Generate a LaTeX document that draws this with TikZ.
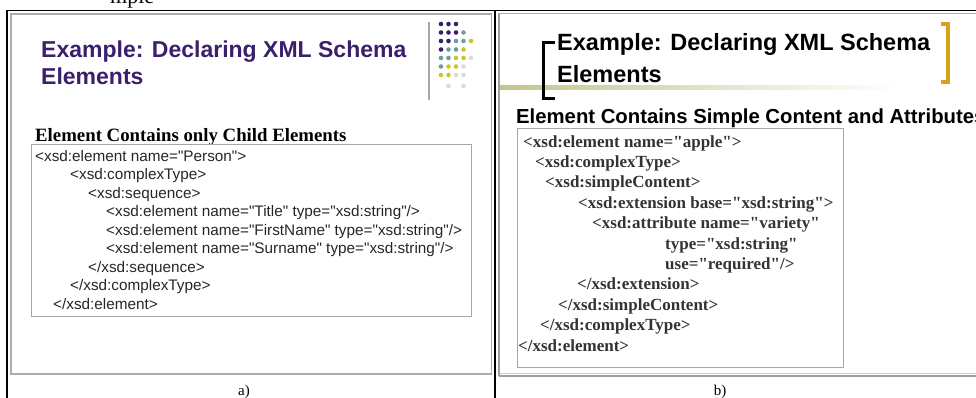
\documentclass[tikz,border=0pt]{standalone}
\usepackage{fontspec}
\setmainfont{Liberation Serif}[Ligatures=TeXOff]
\setsansfont{Liberation Sans}[Ligatures=TeXOff]
\definecolor{ttlpurple}{HTML}{3A1F6B}
\definecolor{dotP}{HTML}{3A1F6B}
\definecolor{dotT}{HTML}{6E9E9A}
\definecolor{dotY}{HTML}{C9C62A}
\definecolor{dotL}{HTML}{D8D8E6}
\definecolor{olive}{HTML}{C4C48E}
\definecolor{gold}{HTML}{D9A21B}
\begin{document}
\begin{tikzpicture}[x=1pt,y=-1pt,
  codeA/.style={anchor=base west,inner sep=0,font=\sffamily\fontsize{15.3}{18}\selectfont,text=black!85},
  codeB/.style={anchor=base west,inner sep=0,font=\rmfamily\bfseries\fontsize{17}{20}\selectfont,text=black!80},
  ttl/.style={anchor=base west,inner sep=0,font=\sffamily\bfseries\fontsize{23}{27}\selectfont},
  caplbl/.style={anchor=base,inner sep=0,font=\rmfamily\fontsize{15}{18}\selectfont},
  shotframe/.style={draw=gray!65,line width=1.5pt},
  tblline/.style={draw=black,line width=1.6pt}]
\useasboundingbox (0,0) rectangle (976,397);
\begin{scope}
\clip (0,0) rectangle (976,397);
% cut caption fragment
\node[anchor=base west,inner sep=0,font=\rmfamily\fontsize{22}{26}\selectfont] (frag) at (110,3.5) {mple};
% table lines
\draw[tblline] (7,10.5) -- (978,10.5);
\draw[tblline] (7,10) -- (7,399);
\draw[tblline] (494.8,10) -- (494.8,399);
% ---------- left screenshot ----------
\draw[shotframe] (11,14) rectangle (491.5,374);
\node[ttl,text=ttlpurple] (lt1) at (41,57) {Example: Declaring XML Schema};
\node[ttl,text=ttlpurple] (lt2) at (41,84) {Elements};
\draw[gray!70,line width=1.2pt] (429,22) -- (429,100);
% dots
\foreach \r/\lst in {24/{P,P,P,N,N},32.5/{P,P,P,T,N},41/{P,P,T,T,Y},49.5/{P,T,T,Y,N},58/{T,T,Y,Y,L},66.5/{T,Y,Y,L,N},75/{Y,Y,L,L,N},86/{N,L,N,L,N}}{
  \foreach \c [count=\i from 0] in \lst {
    \if\c N\else
      \fill[dot\c] ({441+7.5*\i},\r) circle (2.3);
    \fi
  }
}
\node[anchor=base west,inner sep=0,font=\rmfamily\bfseries\fontsize{18.8}{22}\selectfont] (lsub) at (35,141) {Element Contains only Child Elements};
\draw[gray!70,line width=1pt] (31,144) rectangle (471,316);
\node[codeA] (a1) at (35,161) {<xsd:element name="Person">};
\node[codeA] (a2) at (70,179.5) {<xsd:complexType>};
\node[codeA] (a3) at (88,198) {<xsd:sequence>};
\node[codeA] (a4) at (106,216.5) {<xsd:element name="Title" type="xsd:string"/>};
\node[codeA] (a5) at (106,235) {<xsd:element name="FirstName" type="xsd:string"/>};
\node[codeA] (a6) at (106,253.5) {<xsd:element name="Surname" type="xsd:string"/>};
\node[codeA] (a7) at (88,272) {</xsd:sequence>};
\node[codeA] (a8) at (70,290.5) {</xsd:complexType>};
\node[codeA] (a9) at (53,309) {</xsd:element>};
\node[caplbl] (capa) at (244,395) {a)};
% ---------- right screenshot ----------
\draw[gray!40,line width=1pt] (499,373) -- (980,373);
\draw[gray!75,line width=1.5pt] (499,376) -- (980,376);
\draw[gray!75,line width=1.2pt] (499,13) -- (499,376);
\draw[gray!60,line width=1pt] (499,13.5) -- (980,13.5);
\shade[left color=olive,right color=white] (500,85) rectangle (900,89);
\draw[black,line width=3pt] (555,42) -- (543,42) -- (543,98) -- (555,98);
\draw[gold,line width=3.5pt] (941,24) -- (948,24) -- (948,82) -- (941,82);
\node[ttl,text=black,font=\sffamily\bfseries\fontsize{23.5}{28}\selectfont] (rt1) at (557,50) {Example: Declaring XML Schema};
\node[ttl,text=black,font=\sffamily\bfseries\fontsize{23.5}{28}\selectfont] (rt2) at (557,82) {Elements};
\node[anchor=base west,inner sep=0,font=\sffamily\bfseries\fontsize{20.3}{24}\selectfont] (rsub) at (516,123) {Element Contains Simple Content and Attributes};
\draw[gray!70,line width=1pt] (517,128) rectangle (843,367);
\node[codeB] (b1) at (523,147) {<xsd:element name="apple">};
\node[codeB] (b2) at (535,167.4) {<xsd:complexType>};
\node[codeB] (b3) at (545,187.8) {<xsd:simpleContent>};
\node[codeB] (b4) at (578,208.2) {<xsd:extension base="xsd:string">};
\node[codeB] (b5) at (592,228.6) {<xsd:attribute name="variety"};
\node[codeB] (b6) at (665,249) {type="xsd:string"};
\node[codeB] (b7) at (665,269.4) {use="required"/>};
\node[codeB] (b8) at (577,289.8) {</xsd:extension>};
\node[codeB] (b9) at (558,310.2) {</xsd:simpleContent>};
\node[codeB] (b10) at (540,330.6) {</xsd:complexType>};
\node[codeB] (b11) at (518,351) {</xsd:element>};
\node[caplbl] (capb) at (720,395) {b)};
\end{scope}
\end{tikzpicture}
\end{document}
